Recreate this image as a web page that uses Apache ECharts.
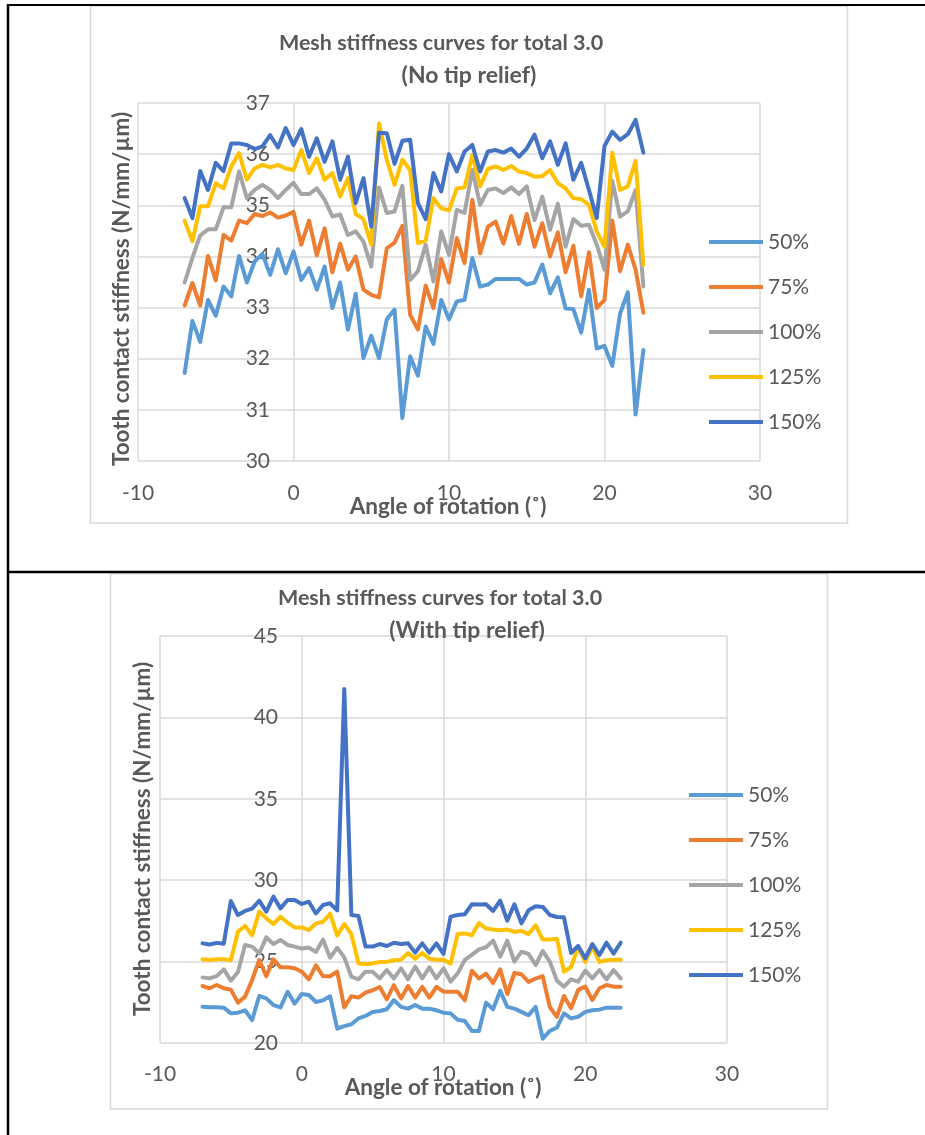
<!DOCTYPE html>
<html>
<head>
<meta charset="utf-8">
<script src="https://cdn.jsdelivr.net/npm/echarts@6/dist/echarts.min.js"></script>
<style>
html,body{margin:0;padding:0;background:#fff;}
#c{width:925px;height:1135px;}
</style>
</head>
<body>
<div id="c"></div>
<script>
// ---- data ----
const seriesNames = ['50%', '75%', '100%', '125%', '150%'];
const seriesColors = ['#5B9BD5', '#ED7D31', '#A5A5A5', '#FFC000', '#4472C4'];
const angles = [-7,-6.5,-6,-5.5,-5,-4.5,-4,-3.5,-3,-2.5,-2,-1.5,-1,-0.5,0,0.5,1,1.5,2,2.5,3,3.5,4,4.5,5,5.5,6,6.5,7,7.5,8,8.5,9,9.5,10,10.5,11,11.5,12,12.5,13,13.5,14,14.5,15,15.5,16,16.5,17,17.5,18,18.5,19,19.5,20,20.5,21,21.5,22,22.5];

const xTicks = [-10, 0, 10, 20, 30];
const yTicksTop = [30, 31, 32, 33, 34, 35, 36, 37];
const yTicksBottom = [20, 25, 30, 35, 40, 45];

// Chart 1: no tip relief
const noRelief50 = [31.72,32.74,32.33,33.15,32.84,33.41,33.22,34.01,33.49,33.90,34.05,33.64,34.14,33.67,34.10,33.54,33.77,33.35,33.80,32.99,33.49,32.57,33.27,32.01,32.45,32.01,32.77,32.96,30.84,32.05,31.67,32.63,32.29,33.15,32.77,33.12,33.15,33.97,33.41,33.45,33.56,33.56,33.56,33.56,33.45,33.49,33.84,33.28,33.59,32.98,32.97,32.51,33.35,32.20,32.25,31.86,32.88,33.30,30.91,32.17];
const noRelief75 = [33.04,33.48,33.04,34.01,33.53,34.42,34.31,34.70,34.65,34.83,34.79,34.86,34.76,34.80,34.87,34.23,34.70,34.02,34.55,33.69,34.25,33.74,34.00,33.35,33.25,33.20,34.16,34.27,34.60,32.86,32.57,33.43,32.99,33.95,33.49,34.36,33.87,35.11,34.06,34.58,34.68,34.25,34.79,34.25,34.83,34.19,34.65,34.00,34.47,33.69,34.21,33.22,34.08,32.99,33.15,34.70,33.71,34.23,33.74,32.90];
const noRelief100 = [33.49,33.97,34.41,34.53,34.53,34.96,34.96,35.66,35.14,35.30,35.40,35.30,35.14,35.30,35.44,35.22,35.22,35.33,35.11,34.78,34.82,34.42,34.49,34.29,33.80,35.35,34.85,34.88,35.38,33.54,33.71,34.23,33.51,34.49,34.03,34.91,34.85,35.69,35.01,35.30,35.33,35.24,35.35,35.22,35.37,34.71,35.17,34.52,35.03,34.19,34.73,34.60,34.62,34.23,33.74,35.48,34.78,34.88,35.30,33.41];
const noRelief125 = [34.70,34.30,34.98,34.98,35.43,35.33,35.76,36.02,35.50,35.72,35.79,35.74,35.79,35.72,35.69,36.08,35.63,35.92,35.50,35.63,35.17,35.53,34.83,34.73,34.23,36.60,35.89,35.40,35.89,35.69,34.26,34.31,35.14,34.94,34.90,35.33,35.35,35.98,35.37,35.71,35.76,35.69,35.77,35.66,35.63,35.56,35.57,35.69,35.43,35.33,35.14,35.12,35.01,34.49,34.19,36.03,35.30,35.37,35.87,33.84];
const noRelief150 = [35.14,34.75,35.67,35.30,35.83,35.67,36.21,36.21,36.18,36.10,36.15,36.37,36.13,36.51,36.18,36.49,35.95,36.31,35.85,36.25,35.50,35.95,35.04,35.53,34.58,36.42,36.41,35.81,36.26,36.28,35.04,34.73,35.63,35.27,36.00,35.66,36.05,36.18,35.66,36.05,36.08,36.03,36.11,35.95,36.11,36.38,35.92,36.25,35.79,36.21,35.50,35.83,35.30,34.75,36.16,36.44,36.28,36.39,36.67,36.03];

// Chart 2: with tip relief
const tipRelief50 = [22.23,22.19,22.19,22.17,21.82,21.86,22.01,21.40,22.89,22.74,22.33,22.19,23.15,22.42,23.01,22.95,22.52,22.62,22.87,20.88,21.04,21.15,21.51,21.66,21.91,21.97,22.07,22.64,22.22,22.11,22.33,22.11,22.11,22.01,21.86,21.82,21.43,21.35,20.74,20.74,22.48,22.07,23.21,22.22,22.11,21.91,21.70,22.22,20.27,20.74,20.95,21.82,21.51,21.61,21.91,22.01,22.05,22.17,22.17,22.17];
const tipRelief75 = [23.50,23.36,23.56,23.36,23.28,22.48,22.85,23.87,25.10,24.10,25.14,24.65,24.65,24.59,24.38,23.91,24.77,24.10,24.10,24.38,22.19,22.87,22.79,23.09,23.24,23.44,22.68,23.55,22.74,23.50,22.79,23.45,22.79,23.45,23.15,23.15,23.15,22.62,24.44,23.96,24.26,23.69,24.52,23.01,24.30,24.22,23.75,23.96,24.10,22.21,21.60,22.89,22.13,23.26,23.46,22.64,23.36,23.56,23.46,23.46];
const tipRelief100 = [24.03,23.97,24.11,24.52,23.83,24.36,26.02,25.92,25.51,26.49,26.08,26.33,26.02,25.92,25.80,25.86,25.59,26.35,25.24,25.85,25.26,24.07,23.91,24.38,24.38,23.97,24.48,23.97,24.59,23.91,24.69,23.97,24.65,23.97,24.59,23.77,24.28,25.10,25.41,25.75,25.88,26.29,25.30,26.29,25.00,25.61,25.47,24.79,25.65,25.00,23.83,23.46,23.91,23.77,24.44,23.97,24.48,23.91,24.48,23.97];
const tipRelief125 = [25.14,25.10,25.14,25.14,25.10,26.84,27.19,26.62,28.07,27.66,27.31,27.76,27.39,27.10,27.10,26.94,27.35,27.45,27.94,26.60,27.31,26.69,24.89,24.85,24.89,24.98,24.98,25.08,25.12,25.53,25.18,25.53,25.18,25.12,25.12,24.88,26.69,26.73,26.62,27.37,27.03,26.97,26.93,26.97,26.82,26.89,26.69,27.23,26.35,26.35,26.41,24.38,24.67,25.90,24.98,25.92,24.98,25.08,25.12,25.12];
const tipRelief150 = [26.12,26.05,26.15,26.10,28.72,27.86,28.11,28.25,28.74,28.07,28.99,28.27,28.78,28.78,28.54,28.68,27.96,28.48,28.58,28.15,41.74,27.86,27.80,25.92,25.92,26.08,25.96,26.16,26.08,26.12,25.55,26.12,25.55,26.12,25.47,27.76,27.86,27.91,28.52,28.50,28.52,28.11,28.74,27.51,28.52,27.35,28.15,28.40,28.36,27.86,27.74,27.72,25.53,25.96,25.20,26.08,25.41,26.16,25.49,26.16];

const titleLine1 = 'Mesh stiffness curves for total 3.0';
const titleTop2 = '(No tip relief)';
const titleBottom2 = '(With tip relief)';
const xTitle = 'Angle of rotation (\u02DA)';
const yTitle = 'Tooth contact stiffness (N/mm/\u00B5m)';

// ---- build option ----
const FONT = 'Lato';
const TXT = '#595959';
const GRIDC = '#D9D9D9';

const topSets = [noRelief50, noRelief75, noRelief100, noRelief125, noRelief150];
const botSets = [tipRelief50, tipRelief75, tipRelief100, tipRelief125, tipRelief150];

function pairs(vals) { return angles.map((a, i) => [a, vals[i]]); }

function xAxisFor(gi, margin) {
  return {
    type: 'value', gridIndex: gi,
    min: xTicks[0], max: xTicks[xTicks.length - 1], interval: xTicks[1] - xTicks[0],
    axisLine: { show: false, onZero: false },
    axisTick: { show: false },
    splitLine: { show: true, lineStyle: { color: GRIDC, width: 1.5 } },
    axisLabel: { color: TXT, fontSize: 21, fontFamily: FONT, margin: margin }
  };
}
// y axis crosses the x axis at 0 (as in the original); labels sit just left of x = 0
function yAxisFor(gi, ticks, margin) {
  return {
    type: 'value', gridIndex: gi,
    min: ticks[0], max: ticks[ticks.length - 1], interval: ticks[1] - ticks[0],
    axisLine: { show: false, onZero: false },
    axisTick: { show: false },
    splitLine: { show: true, lineStyle: { color: GRIDC, width: 1.5 } },
    axisLabel: { color: TXT, fontSize: 21, fontFamily: FONT, margin: margin, align: 'right' }
  };
}

const series = [];
[topSets, botSets].forEach((sets, gi) => {
  sets.forEach((vals, k) => {
    series.push({
      type: 'line', name: seriesNames[k], xAxisIndex: gi, yAxisIndex: gi,
      data: pairs(vals), symbol: 'none', showSymbol: false, smooth: false,
      color: seriesColors[k],
      lineStyle: { color: seriesColors[k], width: 4, join: 'round', cap: 'round' },
      emphasis: { disabled: true }, silent: true
    });
  });
});

function legendFor(top, left) {
  return {
    orient: 'vertical', left: left, top: top, padding: 0,
    itemWidth: 54, itemHeight: 4, itemGap: 21, icon: 'rect',
    data: seriesNames,
    textStyle: { color: TXT, fontSize: 21, fontFamily: FONT, lineHeight: 24 },
    selectedMode: false
  };
}

function txt(x, y, s, size, bold, rot) {
  return {
    type: 'text', x: x, y: y, rotation: rot || 0, z: 100,
    style: {
      text: s, fill: TXT,
      font: (bold ? 'bold ' : '') + size + 'px ' + FONT,
      fontSize: size, fontWeight: bold ? 'bold' : 'normal', fontFamily: FONT,
      textAlign: 'center', textVerticalAlign: 'middle',
      align: 'center', verticalAlign: 'middle'
    }
  };
}
function line(x1, y1, x2, y2, color, w) {
  return { type: 'line', z: 90, shape: { x1: x1, y1: y1, x2: x2, y2: y2 }, style: { stroke: color, lineWidth: w } };
}
function box(x, y, w, h) {
  return { type: 'rect', z: 80, shape: { x: x, y: y, width: w, height: h }, style: { fill: 'none', stroke: GRIDC, lineWidth: 1.5 } };
}

const option = {
  animation: false,
  backgroundColor: '#ffffff',
  textStyle: { fontFamily: FONT },
  grid: [
    { left: 138, top: 103, width: 622, height: 358, outerBoundsMode: 'none', containLabel: false },
    { left: 160, top: 636, width: 567, height: 407, outerBoundsMode: 'none', containLabel: false }
  ],
  xAxis: [xAxisFor(0, 21.5), xAxisFor(1, 20.5)],
  yAxis: [yAxisFor(0, yTicksTop, -132), yAxisFor(1, yTicksBottom, -118)],
  legend: [legendFor(230, 709), legendFor(783, 689)],
  series: series,
  graphic: [
    box(90.5, 6, 757, 517),
    box(110.5, 573.5, 717, 535.5),
    line(8, 4, 8, 1135, '#000', 2.5),
    line(7, 5, 925, 5, '#000', 2),
    line(7, 572, 925, 572, '#000', 2.5),
    txt(441, 43, titleLine1, 21.5, true),
    txt(469, 76, titleTop2, 23, true),
    txt(440, 598, titleLine1, 21.5, true),
    txt(467, 631, titleBottom2, 23, true),
    txt(448, 507, xTitle, 22.5, true),
    txt(443, 1088, xTitle, 22.5, true),
    txt(122, 289, yTitle, 22.5, true, Math.PI / 2),
    txt(143, 839, yTitle, 22.5, true, Math.PI / 2)
  ]
};

const chart = echarts.init(document.getElementById('c'), null, { renderer: 'canvas', width: 925, height: 1135 });
chart.setOption(option);
</script>
</body>
</html>
